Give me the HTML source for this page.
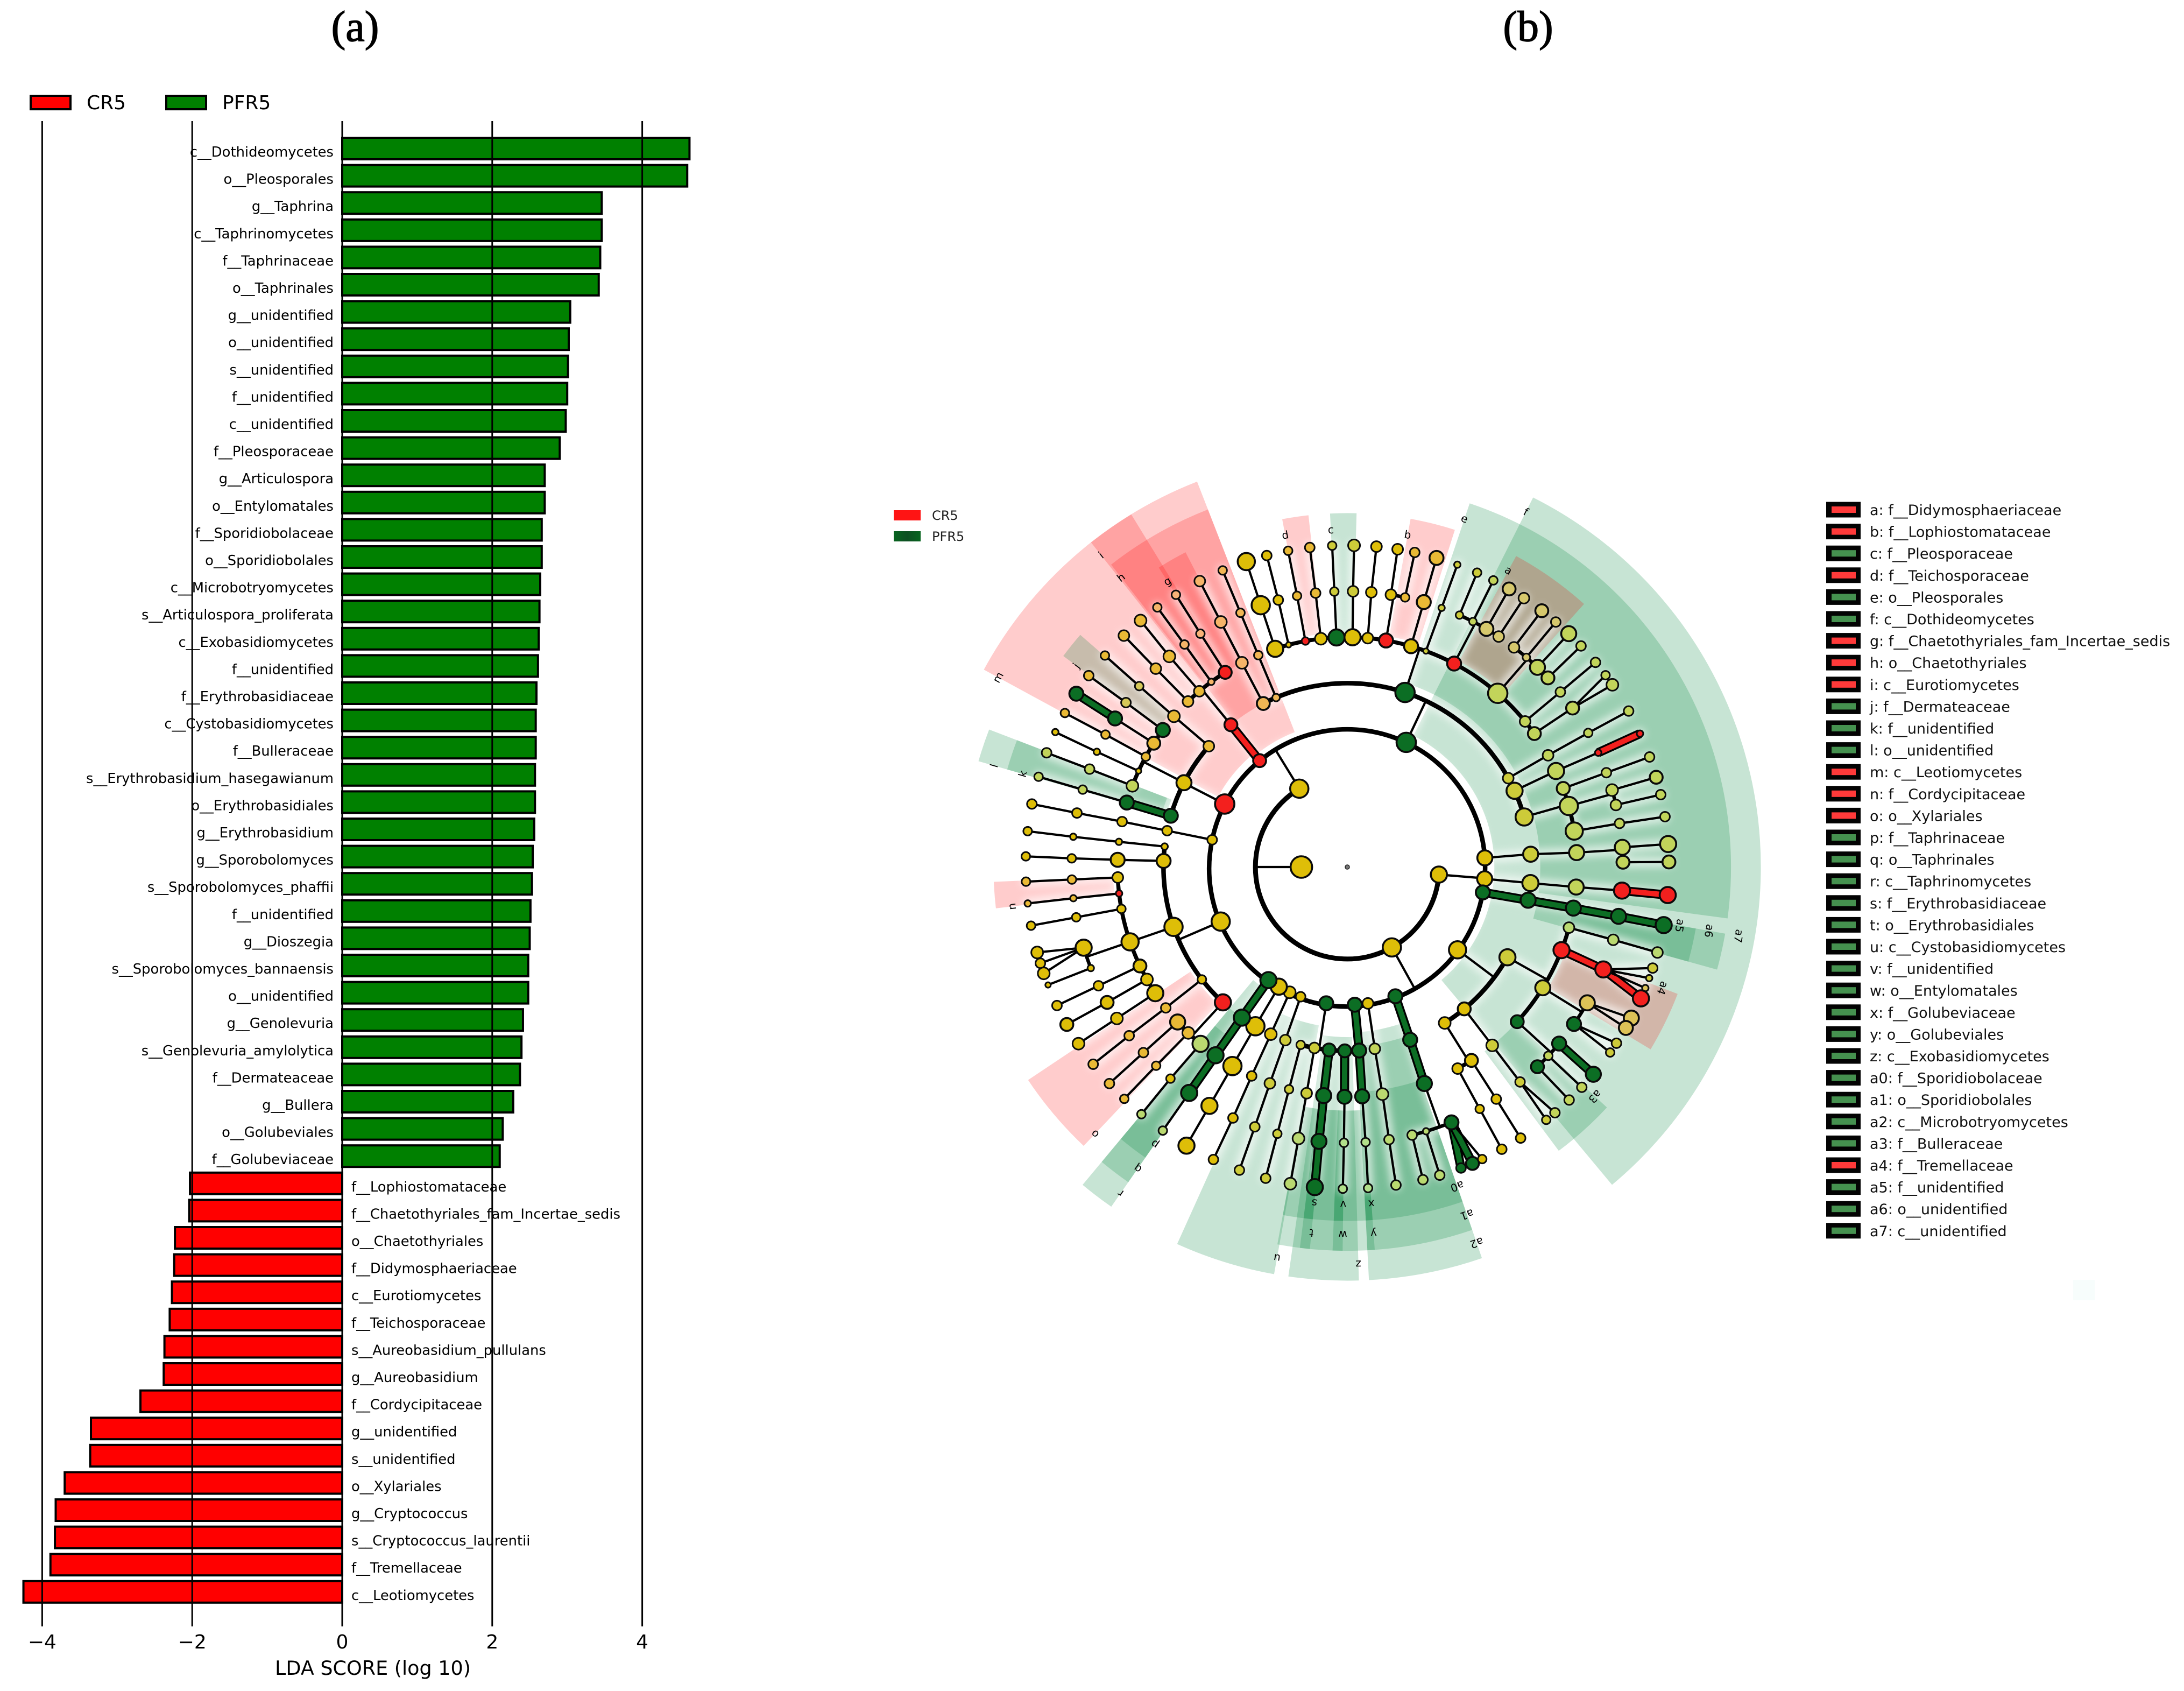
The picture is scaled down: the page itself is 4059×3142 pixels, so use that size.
<!DOCTYPE html>
<html lang="en">
<head>
<meta charset="utf-8">
<title>LDA score bars and LEfSe cladogram</title>
<style>
html,body{margin:0;padding:0;background:#fff;width:4059px;height:3142px;overflow:hidden}
svg{position:absolute;left:0;top:0;display:block}
text{font-family:"DejaVu Sans","Liberation Sans",sans-serif;fill:#000}
.title{font-family:"Liberation Serif",serif;font-weight:normal;font-size:80px;stroke:#000;stroke-width:1.4px}
</style>
</head>
<body>
<svg id="fig" xmlns="http://www.w3.org/2000/svg" width="4059" height="3142" viewBox="0 0 4059 3142">
  <defs>
    <filter id="soft" filterUnits="userSpaceOnUse" x="1500" y="700" width="2000" height="1800"><feGaussianBlur stdDeviation="7"/></filter>
    <linearGradient id="pfrGrad" x1="0" x2="1" y1="0" y2="0"><stop offset="0" stop-color="#07641f"/><stop offset=".5" stop-color="#0d4f22"/><stop offset="1" stop-color="#07641f"/></linearGradient>
  </defs>
  <rect width="4059" height="3142" fill="#fff"/>
  <text class="title" x="660" y="76" text-anchor="middle">(a)</text>
  <text class="title" x="2840" y="76" text-anchor="middle">(b)</text>

  <g>
    <rect x="57" y="178" width="74" height="25" fill="#ff0000" stroke="#000" stroke-width="4"/>
    <text x="161" y="203" font-size="36">CR5</text>
    <rect x="309" y="178" width="74" height="25" fill="#008000" stroke="#000" stroke-width="4"/>
    <text x="413" y="203" font-size="36">PFR5</text>
  </g>
  <g id="bars"></g>
  <g id="grid"></g>
  <g id="barLabels"></g>
  <g id="ticks"></g>
  <text x="693" y="3112" font-size="36.5" text-anchor="middle">LDA SCORE (log 10)</text>

  <g>
    <rect x="1661" y="948" width="50" height="19" fill="#ff1414"/>
    <text x="1732" y="966" font-size="24" style="fill:#222">CR5</text>
    <rect x="1661" y="987" width="50" height="19" fill="url(#pfrGrad)"/>
    <text x="1732" y="1005" font-size="24" style="fill:#222">PFR5</text>
  </g>
  <g id="wedges"></g>
  <g id="glow" filter="url(#soft)" opacity=".62"></g>
  <g id="branches"></g>
  <g id="nodes"></g>
  <g id="wedgeLabels"></g>
  <g id="key"></g>
  <rect x="3853" y="2378" width="40" height="38" fill="#f7fdfc"/>
</svg>
<script>
/* ---------- panel (a) data ---------- */
const barTaxa = ["c__Dothideomycetes","o__Pleosporales","g__Taphrina","c__Taphrinomycetes","f__Taphrinaceae","o__Taphrinales","g__unidentified","o__unidentified","s__unidentified","f__unidentified","c__unidentified","f__Pleosporaceae","g__Articulospora","o__Entylomatales","f__Sporidiobolaceae","o__Sporidiobolales","c__Microbotryomycetes","s__Articulospora_proliferata","c__Exobasidiomycetes","f__unidentified","f__Erythrobasidiaceae","c__Cystobasidiomycetes","f__Bulleraceae","s__Erythrobasidium_hasegawianum","o__Erythrobasidiales","g__Erythrobasidium","g__Sporobolomyces","s__Sporobolomyces_phaffii","f__unidentified","g__Dioszegia","s__Sporobolomyces_bannaensis","o__unidentified","g__Genolevuria","s__Genolevuria_amylolytica","f__Dermateaceae","g__Bullera","o__Golubeviales","f__Golubeviaceae","f__Lophiostomataceae","f__Chaetothyriales_fam_Incertae_sedis","o__Chaetothyriales","f__Didymosphaeriaceae","c__Eurotiomycetes","f__Teichosporaceae","s__Aureobasidium_pullulans","g__Aureobasidium","f__Cordycipitaceae","g__unidentified","s__unidentified","o__Xylariales","g__Cryptococcus","s__Cryptococcus_laurentii","f__Tremellaceae","c__Leotiomycetes"];
const barScores = [4.63,4.60,3.46,3.46,3.44,3.42,3.04,3.02,3.01,3.00,2.98,2.90,2.70,2.70,2.66,2.66,2.64,2.63,2.62,2.61,2.59,2.58,2.58,2.57,2.57,2.56,2.54,2.53,2.51,2.50,2.48,2.48,2.41,2.39,2.37,2.28,2.14,2.10,-2.03,-2.04,-2.23,-2.24,-2.27,-2.30,-2.37,-2.38,-2.69,-3.35,-3.36,-3.70,-3.82,-3.83,-3.89,-4.25];
const xTicks = [-4,-2,0,2,4];

/* ---------- panel (b) data ---------- */
/* clade wedges: letter, start angle, end angle, inner ring, outer ring, class */
const cladeWedges = [
 ["m",-61.5,-38.3,3.2,9,"r"],["i",-38.3,-21.3,3.15,9,"r"],["",-38.3,-31.5,5,9,"r"],["h",-38,-21.3,4,8.35,"r"],["g",-32.2,-27.2,5,7.7,"r"],
 ["d",-10.6,-6.3,5.1,7.7,"r"],["c",-2.8,1.5,5.1,7.7,"g"],["b",10.3,17.7,5.1,7.7,"r"],
 ["e",18.6,97.7,4.2,8.35,"g"],["f",26.7,100,3.2,9,"g"],["a",28.5,42,5.1,7.7,"r"],
 ["a5",100,105.5,5,7.7,"g"],["a6",100,105.5,4.2,8.35,"g"],["a7",100,105.5,3.2,9,"g"],
 ["",105.5,140.2,3.2,9,"g"],["a4",111,121,5.1,7.7,"r"],["a3",132.8,143.3,5,7.7,"g"],
 ["a2",161,177,3.6,9,"g"],["a1",161,177,3.9,8.35,"g"],["a0",161,177,4.9,7.7,"g"],
 ["z",178.4,188.2,3.7,9,"g"],["",178.4,190.5,5.3,8.35,"g"],["",178.4,190.5,5.3,7.7,"g"],
 ["s",-174.4,-172.9,5.3,7.7,"g"],["t",-174.4,-172.9,5.3,8.35,"g"],["v",-179.3,-177.8,5.3,7.7,"g"],["w",-179.3,-177.8,5.3,8.35,"g"],["x",175.9,178.4,5.3,7.7,"g"],["y",175.9,178.4,5.3,8.35,"g"],
 ["u",-169.8,-155.7,3.5,9,"g"],
 ["r",-145.2,-140.2,3.2,9,"g"],["q",-145.2,-140.2,4,8.35,"g"],["p",-145.2,-140.2,4.5,7.7,"g"],
 ["o",-136.6,-123.7,4.1,8.35,"r"],["n",-96.7,-92.4,5.1,7.7,"r"],
 ["l",-74,-69,4.1,8.35,"g"],["k",-74,-69,4.2,7.7,"g"],["j",-53.4,-49,5.1,7.7,"g"]
];
/* tree rows: parent id (0 = previous row), angle in degrees, node size, class, own id.
   Ring level follows from the parent. Size 0 only extends the parent's ring arc. */
const treeRows = [
 ["",-90,20,"y","k1"],
 ["k1",-31.5,17,"y","A"],["k1",151,17,"y","B"],["k1",94.7,15,"y","C"],
 ["A",-62.8,18,"r","m3"],["A",-39.5,12,"r","i3"],["A",25.3,18,"g","d3"],["A",86.2,14,"y","p3"],["A",-78.6,9,"y","ad3"],
 ["C",94.9,14,"y","q3"],["C",100.6,13,"g","s3"],["C",86.2,0],
 ["B",100.6,0],["B",126.9,16,"y","t3"],["B",159.6,13,"g","u3"],["B",171.4,10,"y","v3"],["B",176.9,13,"g","w3"],["B",-171.2,13,"g","x3"],["B",-160.2,9,"y","y3"],["B",-155.3,11,"y","z3"],["B",-150.2,15,"y","aa3"],["B",-145.1,15,"g","ab3"],["B",-113.3,17,"y","ac3"],["B",-78.6,0],
 /* level 3 to 7, m / j / k / l block */
 ["m3",-73.8,13,"g","m41"],["m3",-62.7,14,"y","m42"],["m3",-48.9,10,"y","m43"],
 ["m43",-49,11],[0,-49,8],[0,-48.9,8],
 ["m42",-53.4,13,"g","m51"],["m42",-57.4,12,"y","m52"],["m42",-61.3,8,"y","m53"],["m42",-65.3,5,"y","m54"],["m42",-69.3,11,"y","m55"],
 ["m51",-53.4,9],[0,-53.5,9],
 ["m52",-57.4,13,"g"],[0,-57.4,13,"g"],
 ["m53",-61.3,8],[0,-61.4,8],
 ["m54",-65.3,6],[0,-65.2,6],
 ["m55",-69.2,9],[0,-69.2,9],
 ["m41",-73.7,13,"g"],[0,-73.7,8],[0,-73.7,8],
 /* i / h / g block */
 ["i3",-39.3,12,"r","i4"],
 ["i4",-43.9,10,"y","i51"],["i4",-40.1,10,"y","i52"],["i4",-36.3,6,"y","i53"],["i4",-32.1,12,"r","i54"],
 ["i51",-44,10],[0,-44,10],
 ["i52",-40.2,11],[0,-40,11],
 ["i53",-36.2,8],[0,-36.2,8],
 ["i54",-32.2,8],[0,-32.2,8],
 /* d3 children */
 ["d3",-27.2,12,"y","e1"],["d3",-22.8,7,"y","e2"],["d3",18.3,18,"g","e3"],["d3",61.1,10,"y","e6"],["d3",65.5,15,"y","e5"],["d3",74.2,16,"y","e4"],
 ["e1",-27.3,11],[0,-27.3,11],[0,-27.3,10],
 ["e2",-22.8,8],[0,-22.8,8],[0,-22.8,8],
 ["e3",-18.3,15,"y","f1"],["e3",-14.8,5,"y","f2"],["e3",-10.5,7,"r","f3"],["e3",-6.6,11,"y","f4"],["e3",-2.7,15,"g","f5"],["e3",1.3,15,"y","f6"],["e3",5.1,10,"y","f7"],["e3",9.7,13,"r","f8"],["e3",16.1,13,"y","f9"],["e3",20,5,"y","f10"],["e3",27.7,13,"r","f11"],["e3",40.9,18,"y","f12"],["e3",50.7,10,"y","f13"],["e3",54.5,12,"y","f14"],
 ["f1",-18.3,17],[0,-18.3,16],
 ["f2",-14.5,9],[0,-14.5,9],
 ["f3",-10.5,8],[0,-10.6,8],
 ["f4",-6.6,9],[0,-6.7,9],
 ["f5",-2.7,8],[0,-2.7,8],
 ["f6",1.2,10],[0,1.2,11],
 ["f7",5,10],[0,5.2,10],
 ["f8",9.1,10,"y","f81"],["f8",12.1,8,"y","f82"],["f81",9,10],["f82",12.1,9],
 ["f9",16.1,13],[0,16.1,13],
 ["f10",20,6],[0,20,6],
 ["f11",24,7,"y","g1"],["f11",27.1,7,"y","g2"],["f11",30.3,13,"y","g3"],["f11",33.3,10,"y","g4"],
 ["g1",23.8,8],["g2",27,8],["g3",30.2,12],["g4",33.3,10],
 ["f12",37.2,10,"y","h1"],["f12",40.5,7,"y","h2"],["f12",43.6,14,"y","h3"],["f12",46.7,12,"y","h4"],
 ["h1",37.2,12],["h2",40.4,9],["h3",43.5,14],["h4",46.6,9],
 ["f13",50.6,9],[0,50.5,9],
 ["f14",54.8,12,"y","f141"],["f141",53.4,8],["f141",55.5,11],
 /* right side */
 ["e6",60.9,10],[0,60.9,8],[0,61,9],
 ["e5",65.3,15],[0,65.5,6,"r"],[0,65.5,6,"r"],
 ["e4",70,12,"y","n1"],["e4",74.6,17,"y","n2"],["e4",81,16,"y","n3"],
 ["n1",70,9],[0,70,9],
 ["n2",73.8,11,"y","n21"],["n2",77,10,"y","n22"],["n21",73.8,12],["n22",77,9],
 ["n3",80.9,9],[0,81,9],
 ["p3",86,14],[0,86.4,14,"y","p5"],["p5",85.9,14,"y","p61"],["p5",89,12,"y","p62"],["p61",85.9,15],["p62",89.1,12],
 ["q3",95,15],[0,95,14],[0,94.9,15,"r"],[0,95,15,"r"],
 ["s3",100.4,14,"g"],[0,100.3,14,"g"],[0,100.3,14,"g"],[0,100.4,15,"g"],
 /* lower right */
 ["t3",119.4,15,"y","t41"],["t3",140.5,12,"y","t42"],["t3",148,11,"y","t43"],
 ["t41",105.3,10,"y","t51"],["t41",111.2,15,"r","t52"],["t41",121.7,14,"y","t53"],["t41",132.3,12,"g","t54"],
 ["t51",105.3,10],[0,105.4,10],
 ["t52",111.8,15,"r","t62"],["t62",108.3,9],["t62",110.2,6],["t62",112.1,6],["t62",114.1,15,"r"],
 ["t53",119.5,14,"y","t63"],["t53",124.7,13,"g","t64"],["t63",118,14],["t63",120,13],["t64",123.2,9],["t64",125.2,8],
 ["t54",129.8,13,"g","t65"],["t54",133.2,8,"y","t66"],["t54",136.4,12,"g","t67"],["t65",130.1,14,"g"],["t66",133.2,9],["t67",136.4,9],
 ["t42",140.9,11],[0,141.2,9,"y","t68"],["t68",139.8,9],["t68",141.8,8],
 ["t43",147.3,12,"y","t55"],["t43",151.3,10,"y","t56"],["t55",147.3,9],[0,147.4,9],["t56",151.3,8],[0,151.3,9],
 /* bottom */
 ["u3",160,13,"g"],[0,160.4,14,"g","u5"],
 ["u5",157.8,13,"g","u61"],["u5",163.4,6,"y","u62"],["u5",166.4,9,"y","u63"],
 ["u61",159.3,9,"g"],["u61",157.1,12,"g"],["u61",155.2,8],["u62",163.3,9],["u63",166.4,9],
 ["v3",171.4,10],[0,171.2,11],[0,171.3,9],[0,171.3,9],
 ["w3",176.3,13,"g"],[0,176.3,13,"g"],[0,176.2,8],[0,176.3,8],
 ["x3",-165.3,8,"y","x1"],["x3",-169.7,10,"y","x2"],["x3",-174.3,12,"g","x4"],["x3",-179.2,12,"g","x5"],
 ["x1",-165.3,8],[0,-165.3,8],[0,-165.3,9],
 ["x2",-169.8,10],[0,-169.8,11],[0,-169.8,11],
 ["x4",-174.1,14,"g"],[0,-174.1,14,"g"],[0,-174.2,15,"g"],
 ["x5",-179.3,13,"g"],[0,-179.3,8],[0,-179.2,8],
 ["y3",-160.3,10],[0,-160.3,10],[0,-160.4,9],[0,-160.4,9],
 ["z3",-155.4,11],[0,-155.4,9],[0,-155.5,9],[0,-155.4,9],
 ["aa3",-150,17],[0,-150,17],[0,-150,15],[0,-150,15],
 ["ab3",-145,15,"g"],[0,-145,15,"g"],[0,-145,15,"g"],[0,-145,8],
 /* left */
 ["ac3",-137.4,15,"r","l41"],["ac3",-127.7,8,"y","l42"],["ac3",-109,17,"y","l43"],["ac3",-88.1,13,"y","l44"],["ac3",-83.6,6,"y","l45"],
 ["l41",-132.4,14,"y","o1"],["l41",-136.2,11,"y","o2"],["l41",-140.3,15,"y","o3"],
 ["o1",-132.3,9],[0,-132.3,9],
 ["o2",-136.1,8],[0,-136.1,8],
 ["o3",-140.1,8],[0,-140.2,8],
 ["l42",-127.8,9],[0,-127.7,9],[0,-127.8,9],
 ["l43",-92.6,10,"y","c1"],["l43",-96.6,6,"r","c2"],["l43",-100.5,8,"y","c3"],["l43",-109,16,"y","c4"],["l43",-115.5,12,"y","c5"],["l43",-119.3,11,"y","c6"],["l43",-123.3,15,"y","c7"],
 ["c1",-92.6,8],[0,-92.6,8],
 ["c2",-96.5,6],[0,-96.5,6],
 ["c3",-100.5,8],[0,-100.5,8],
 ["c4",-107,15,"y","c41"],["c4",-111.5,6,"y","c42"],["c41",-105.4,11],["c41",-107.4,9],["c41",-109.3,11],["c42",-111.5,5],
 ["c5",-115.5,9],[0,-115.5,9],
 ["c6",-119.4,12],[0,-119.3,12],
 ["c7",-123.3,11],[0,-123.3,11],
 ["l44",-88.2,13],[0,-88.2,8],[0,-88.1,8],
 ["l45",-83.7,6],[0,-83.7,6],[0,-83.6,8],
 ["ad3",-78.6,9],[0,-78.6,9],[0,-78.7,9],[0,-78.7,9]
];
const keyLetters = ["a","b","c","d","e","f","g","h","i","j","k","l","m","n","o","p","q","r","s","t","u","v","w","x","y","z","a0","a1","a2","a3","a4","a5","a6","a7"];
const keyTaxa = ["f__Didymosphaeriaceae","f__Lophiostomataceae","f__Pleosporaceae","f__Teichosporaceae","o__Pleosporales","c__Dothideomycetes","f__Chaetothyriales_fam_Incertae_sedis","o__Chaetothyriales","c__Eurotiomycetes","f__Dermateaceae","f__unidentified","o__unidentified","c__Leotiomycetes","f__Cordycipitaceae","o__Xylariales","f__Taphrinaceae","o__Taphrinales","c__Taphrinomycetes","f__Erythrobasidiaceae","o__Erythrobasidiales","c__Cystobasidiomycetes","f__unidentified","o__Entylomatales","f__Golubeviaceae","o__Golubeviales","c__Exobasidiomycetes","f__Sporidiobolaceae","o__Sporidiobolales","c__Microbotryomycetes","f__Bulleraceae","f__Tremellaceae","f__unidentified","o__unidentified","c__unidentified"];
const keyClasses = ["r","r","g","r","g","g","r","r","r","g","g","g","r","r","r","g","g","g","g","g","g","g","g","g","g","g","g","g","g","g","r","g","g","g"];

/* ---------- helpers ---------- */
const NS = "http://www.w3.org/2000/svg";
function make(tag, parentId, attrs){
  const el = document.createElementNS(NS, tag);
  for (const k in attrs) el.setAttribute(k, attrs[k]);
  document.getElementById(parentId).appendChild(el);
  return el;
}
/* ---------- panel (a) ---------- */
const xScale = v => 636 + 139.4 * v;
const yScale = i => 276 + 50.6 * i;
const AXIS_TOP = 225, AXIS_BOTTOM = 3022;

barScores.forEach((v, i) => {
  const x0 = Math.min(xScale(0), xScale(v));
  const bar = make("rect", "bars", {x:x0, y:yScale(i)-20, width:Math.abs(xScale(v)-xScale(0)), height:40, fill:v>0?"#008000":"#ff0000", stroke:"#000", "stroke-width":4});
  
  
  const lab = make("text", "barLabels", {x:v>0?xScale(0)-16:xScale(0)+17, y:yScale(i)+15, "font-size":25.8, "text-anchor":v>0?"end":"start"});
  
  
  lab.textContent = barTaxa[i];
});
xTicks.forEach(t => {
  const line = make("line", "grid", {x1:xScale(t), x2:xScale(t), y1:AXIS_TOP, y2:AXIS_BOTTOM, stroke:"#000", "stroke-width":3});
  
  
  const lab = make("text", "ticks", {x:xScale(t), y:3063, "font-size":36, "text-anchor":"middle"});
  
  
  lab.textContent = (t<0?"\u2212":"") + Math.abs(t);
});

/* ---------- panel (b) ---------- */
const CX = 2504, CY = 1611, RING = 85.4;
const polar = (r, deg) => { const a = deg*Math.PI/180; return [CX + r*Math.sin(a), CY - r*Math.cos(a)]; };
const pt = (lvl, deg) => polar(lvl*RING, deg);
const fmt = p => p[0].toFixed(1)+" "+p[1].toFixed(1);

function wedgePath(a1, a2, r1, r2){
  const big = (a2-a1) > 180 ? 1 : 0;
  return "M"+fmt(polar(r1,a1))+"L"+fmt(polar(r2,a1))+"A"+r2+" "+r2+" 0 "+big+" 1 "+fmt(polar(r2,a2))+"L"+fmt(polar(r1,a2))+"A"+r1+" "+r1+" 0 "+big+" 0 "+fmt(polar(r1,a1))+"Z";
}
function arcPath(lvl, a1, a2){
  const r = lvl*RING, big = (a2-a1) > 180 ? 1 : 0;
  return "M"+fmt(polar(r,a1))+"A"+r+" "+r+" 0 "+big+" 1 "+fmt(polar(r,a2));
}
const wedgeFill = {r:"rgba(255,0,0,.2)", g:"rgba(0,130,60,.22)"};
const wedgeTint = {r:[255,175,150], g:[170,230,160]};

cladeWedges.forEach(w => {
  const wedge = make("path", "wedges", {d:wedgePath(w[1],w[2],w[3]*RING,w[4]*RING), fill:wedgeFill[w[5]]});
  
  
  if (w[0]) {
    const p = polar(w[4]*RING-30, w[1]);
    const t = make("text", "wedgeLabels", {x:p[0], y:p[1]+7, "font-size":20, "text-anchor":"middle", transform:"rotate("+w[1]+" "+p[0]+" "+p[1]+")"});
    
    
    t.textContent = w[0];
  }
});

/* resolve the tree */
const byId = {};
const nodes = [];
treeRows.forEach((row, i) => {
  const parent = row[0] === 0 ? nodes[i-1] : (row[0] === "" ? null : byId[row[0]]);
  const n = {parent, angle:row[1], size:row[2], cls:row[3] || "y", level:parent ? parent.level+1 : 1, kids:[]};
  nodes.push(n);
  if (row[4]) byId[row[4]] = n;
  if (parent) parent.kids.push(n);
});

function tint(n){
  let c = [222,190,8];
  const r = n.level;
  cladeWedges.forEach(w => {
    const d = (((n.angle-w[1])%360)+360)%360;
    if (d <= w[2]-w[1] && r >= w[3] && r <= w[4]) {
      const t = wedgeTint[w[5]];
      c = c.map((v,k) => v*0.68 + t[k]*0.32);
    }
  });
  return "rgb("+c.map(Math.round).join(",")+")";
}
const arcWidth = {2:9, 3:8.5, 4:8.5, 5:7.5, 6:6.5, 7:5};
const fills = {g:"#0c6e24", r:"#f3201e"};

function addGlow(d){
  const g = make("path", "glow", {d, fill:"none", stroke:"#fff", "stroke-width":20, "stroke-linecap":"round"});
  
  
}
function thinLine(a, b, width){
  const d = "M"+fmt(a)+"L"+fmt(b);
  addGlow(d);
  const l = make("path", "branches", {d, fill:"none", stroke:"#000", "stroke-width":width});
  
  
}
function cladeLine(a, b, cls){
  const d = "M"+fmt(a)+"L"+fmt(b);
  addGlow(d);
  const o = make("path", "branches", {d, fill:"none", stroke:"#000", "stroke-width":17});
  
  
  const i = make("path", "branches", {d, fill:"none", stroke:fills[cls], "stroke-width":10});
  
  
}
const relAngle = (child, parent) => ((child-parent+540)%360) - 180;

nodes.forEach(n => {
  if (!n.kids.length) return;
  const from = pt(n.level, n.angle);
  const childLevel = n.level + 1;
  const inArc = [];
  n.kids.forEach(k => {
    const same = k.cls !== "y" && k.cls === n.cls && Math.abs(relAngle(k.angle,n.angle)) < 2.4;
    if (same && k.size) cladeLine(from, pt(k.level,k.angle), k.cls);
    else inArc.push(k);
  });
  if (childLevel === 7 || inArc.length === 1) {
    inArc.forEach(k => { if (k.size) thinLine(from, pt(k.level,k.angle), 4.2); });
  } else if (inArc.length > 1) {
    const rel = inArc.map(k => relAngle(k.angle, n.angle));
    const lo = Math.min(...rel), hi = Math.max(...rel);
    const d = arcPath(childLevel, n.angle+lo, n.angle+hi);
    addGlow(d);
    const arc = make("path", "branches", {d, fill:"none", stroke:"#000", "stroke-width":arcWidth[childLevel]});
    
    
    const foot = Math.max(lo, Math.min(hi, 0));
    thinLine(from, pt(childLevel, n.angle+foot), 4.2);
  }
});

nodes.forEach(n => {
  if (!n.size) return;
  const p = pt(n.level, n.angle);
  const c = make("circle", "nodes", {cx:p[0], cy:p[1], r:n.size, fill:n.cls==="y"?tint(n):fills[n.cls], stroke:"#0a0a0a", "stroke-width":n.size>11?3.6:3});
  
  
});
const rootDot = make("circle", "nodes", {cx:CX, cy:CY, r:4, fill:"#777", stroke:"#222", "stroke-width":1.5});



/* taxon key */
const keyColour = {r:"#ff3a3a", g:"#45914f"};
keyLetters.forEach((letter, i) => {
  const y = 947 + 40.6*i;
  const box = make("rect", "key", {x:3394, y:y-14.5, width:64, height:29, fill:"#030303"});
  
  
  const strip = make("rect", "key", {x:3404, y:y-6, width:45, height:12, fill:keyColour[keyClasses[i]]});
  
  
  const t = make("text", "key", {x:3475, y:y+10, "font-size":27});
  
  
  t.style.fill = "#111";
  t.textContent = letter + ": " + keyTaxa[i];
});
</script>
</body>
</html>
